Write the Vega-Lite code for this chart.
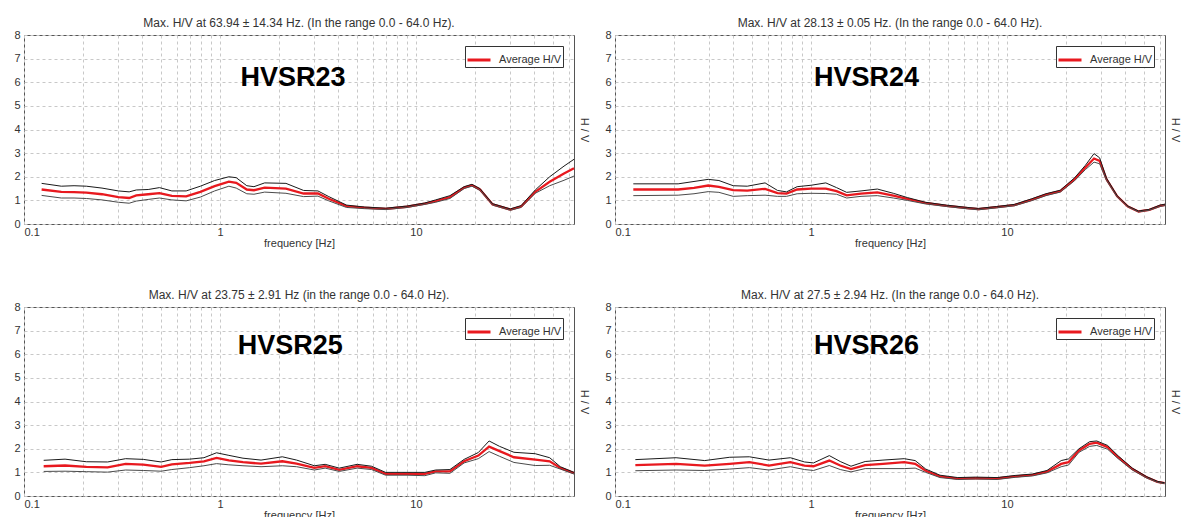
{
  "$schema": "https://vega.github.io/schema/vega-lite/v6.json",
  "padding": {"left": 13, "top": 16, "right": 2, "bottom": 0},
  "bounds": "flush",
  "columns": 2,
  "spacing": {"column": 41, "row": 83},
  "datasets": {
    "p23": [
      {"f":0.123,"avg":1.46,"hi":1.72,"lo":1.21},{"f":0.155,"avg":1.36,"hi":1.60,"lo":1.10},{"f":0.18,"avg":1.35,"hi":1.62,"lo":1.10},{"f":0.208,"avg":1.33,"hi":1.60,"lo":1.08},{"f":0.25,"avg":1.26,"hi":1.52,"lo":1.02},{"f":0.303,"avg":1.14,"hi":1.40,"lo":0.92},{"f":0.344,"avg":1.10,"hi":1.36,"lo":0.88},{"f":0.374,"avg":1.21,"hi":1.44,"lo":0.97},{"f":0.43,"avg":1.26,"hi":1.46,"lo":1.04},{"f":0.491,"avg":1.31,"hi":1.54,"lo":1.10},{"f":0.568,"avg":1.19,"hi":1.40,"lo":1.02},{"f":0.672,"avg":1.17,"hi":1.40,"lo":0.98},{"f":0.794,"avg":1.36,"hi":1.60,"lo":1.14},{"f":0.939,"avg":1.60,"hi":1.84,"lo":1.40},{"f":1.11,"avg":1.79,"hi":2.00,"lo":1.60},{"f":1.21,"avg":1.74,"hi":1.96,"lo":1.52},{"f":1.37,"avg":1.46,"hi":1.62,"lo":1.28},{"f":1.49,"avg":1.43,"hi":1.58,"lo":1.26},{"f":1.69,"avg":1.54,"hi":1.74,"lo":1.35},{"f":2.17,"avg":1.50,"hi":1.72,"lo":1.30},{"f":2.67,"avg":1.29,"hi":1.42,"lo":1.16},{"f":3.16,"avg":1.29,"hi":1.40,"lo":1.18},{"f":3.59,"avg":1.07,"hi":1.16,"lo":0.98},{"f":4.42,"avg":0.76,"hi":0.80,"lo":0.70},{"f":5.45,"avg":0.69,"hi":0.72,"lo":0.65},{"f":7.0,"avg":0.64,"hi":0.67,"lo":0.61},{"f":9.0,"avg":0.73,"hi":0.76,"lo":0.70},{"f":11.1,"avg":0.86,"hi":0.89,"lo":0.83},{"f":12.6,"avg":0.97,"hi":1.02,"lo":0.92},{"f":14.9,"avg":1.14,"hi":1.20,"lo":1.08},{"f":17.6,"avg":1.54,"hi":1.58,"lo":1.50},{"f":19.3,"avg":1.64,"hi":1.68,"lo":1.60},{"f":21.2,"avg":1.46,"hi":1.50,"lo":1.42},{"f":24.6,"avg":0.83,"hi":0.86,"lo":0.80},{"f":30.3,"avg":0.61,"hi":0.64,"lo":0.58},{"f":34.4,"avg":0.74,"hi":0.78,"lo":0.70},{"f":40.6,"avg":1.36,"hi":1.44,"lo":1.30},{"f":48.1,"avg":1.79,"hi":2.00,"lo":1.62},{"f":56.9,"avg":2.14,"hi":2.45,"lo":1.85},{"f":64.0,"avg":2.36,"hi":2.74,"lo":2.03}
    ],
    "p24": [
      {"f":0.124,"avg":1.46,"hi":1.70,"lo":1.20},{"f":0.21,"avg":1.46,"hi":1.70,"lo":1.22},{"f":0.253,"avg":1.53,"hi":1.80,"lo":1.28},{"f":0.299,"avg":1.63,"hi":1.89,"lo":1.37},{"f":0.339,"avg":1.57,"hi":1.84,"lo":1.34},{"f":0.401,"avg":1.43,"hi":1.62,"lo":1.17},{"f":0.473,"avg":1.41,"hi":1.60,"lo":1.20},{"f":0.583,"avg":1.49,"hi":1.74,"lo":1.22},{"f":0.675,"avg":1.31,"hi":1.42,"lo":1.17},{"f":0.75,"avg":1.29,"hi":1.36,"lo":1.17},{"f":0.85,"avg":1.46,"hi":1.58,"lo":1.28},{"f":1.0,"avg":1.50,"hi":1.64,"lo":1.30},{"f":1.19,"avg":1.50,"hi":1.74,"lo":1.29},{"f":1.35,"avg":1.39,"hi":1.54,"lo":1.26},{"f":1.52,"avg":1.21,"hi":1.34,"lo":1.10},{"f":1.80,"avg":1.29,"hi":1.40,"lo":1.17},{"f":2.18,"avg":1.34,"hi":1.48,"lo":1.20},{"f":2.63,"avg":1.20,"hi":1.30,"lo":1.10},{"f":3.1,"avg":1.06,"hi":1.12,"lo":1.00},{"f":3.83,"avg":0.89,"hi":0.92,"lo":0.85},{"f":4.91,"avg":0.77,"hi":0.80,"lo":0.74},{"f":6.31,"avg":0.67,"hi":0.70,"lo":0.64},{"f":7.16,"avg":0.63,"hi":0.66,"lo":0.60},{"f":8.83,"avg":0.71,"hi":0.74,"lo":0.68},{"f":10.9,"avg":0.80,"hi":0.83,"lo":0.77},{"f":13.4,"avg":1.03,"hi":1.07,"lo":0.99},{"f":15.8,"avg":1.24,"hi":1.28,"lo":1.20},{"f":18.7,"avg":1.39,"hi":1.43,"lo":1.35},{"f":22.1,"avg":1.89,"hi":1.95,"lo":1.83},{"f":25.1,"avg":2.39,"hi":2.48,"lo":2.30},{"f":27.8,"avg":2.77,"hi":2.98,"lo":2.62},{"f":29.7,"avg":2.67,"hi":2.80,"lo":2.55},{"f":32.2,"avg":1.89,"hi":1.94,"lo":1.84},{"f":36.5,"avg":1.17,"hi":1.20,"lo":1.14},{"f":41.4,"avg":0.74,"hi":0.76,"lo":0.72},{"f":46.9,"avg":0.53,"hi":0.55,"lo":0.51},{"f":53.2,"avg":0.60,"hi":0.62,"lo":0.58},{"f":60.3,"avg":0.77,"hi":0.80,"lo":0.74},{"f":64.0,"avg":0.81,"hi":0.84,"lo":0.78}
    ],
    "p25": [
      {"f":0.126,"avg":1.26,"hi":1.51,"lo":1.04},{"f":0.162,"avg":1.29,"hi":1.56,"lo":1.05},{"f":0.208,"avg":1.23,"hi":1.45,"lo":1.03},{"f":0.267,"avg":1.21,"hi":1.44,"lo":1.01},{"f":0.33,"avg":1.36,"hi":1.58,"lo":1.10},{"f":0.406,"avg":1.33,"hi":1.55,"lo":1.08},{"f":0.501,"avg":1.23,"hi":1.44,"lo":1.05},{"f":0.568,"avg":1.34,"hi":1.54,"lo":1.12},{"f":0.70,"avg":1.40,"hi":1.56,"lo":1.20},{"f":0.828,"avg":1.47,"hi":1.62,"lo":1.28},{"f":0.96,"avg":1.61,"hi":1.83,"lo":1.37},{"f":1.11,"avg":1.51,"hi":1.72,"lo":1.32},{"f":1.31,"avg":1.43,"hi":1.60,"lo":1.28},{"f":1.62,"avg":1.37,"hi":1.52,"lo":1.24},{"f":2.08,"avg":1.47,"hi":1.66,"lo":1.28},{"f":2.46,"avg":1.37,"hi":1.52,"lo":1.24},{"f":3.03,"avg":1.19,"hi":1.28,"lo":1.10},{"f":3.44,"avg":1.26,"hi":1.34,"lo":1.18},{"f":4.06,"avg":1.11,"hi":1.18,"lo":1.04},{"f":5.01,"avg":1.26,"hi":1.34,"lo":1.18},{"f":5.93,"avg":1.19,"hi":1.26,"lo":1.12},{"f":7.0,"avg":0.94,"hi":1.00,"lo":0.88},{"f":9.0,"avg":0.94,"hi":1.00,"lo":0.88},{"f":11.1,"avg":0.94,"hi":1.00,"lo":0.86},{"f":12.6,"avg":1.04,"hi":1.10,"lo":0.98},{"f":14.9,"avg":1.04,"hi":1.12,"lo":0.96},{"f":17.6,"avg":1.47,"hi":1.55,"lo":1.40},{"f":20.8,"avg":1.71,"hi":1.84,"lo":1.58},{"f":23.6,"avg":2.09,"hi":2.33,"lo":1.88},{"f":26.7,"avg":1.90,"hi":2.10,"lo":1.68},{"f":31.6,"avg":1.64,"hi":1.85,"lo":1.42},{"f":40.6,"avg":1.54,"hi":1.79,"lo":1.29},{"f":48.1,"avg":1.47,"hi":1.62,"lo":1.30},{"f":54.5,"avg":1.19,"hi":1.24,"lo":1.14},{"f":64.0,"avg":0.97,"hi":1.00,"lo":0.93}
    ],
    "p26": [
      {"f":0.127,"avg":1.31,"hi":1.54,"lo":1.07},{"f":0.205,"avg":1.36,"hi":1.62,"lo":1.10},{"f":0.287,"avg":1.29,"hi":1.50,"lo":1.08},{"f":0.385,"avg":1.36,"hi":1.64,"lo":1.14},{"f":0.485,"avg":1.43,"hi":1.66,"lo":1.20},{"f":0.61,"avg":1.29,"hi":1.52,"lo":1.10},{"f":0.785,"avg":1.43,"hi":1.62,"lo":1.24},{"f":0.927,"avg":1.29,"hi":1.44,"lo":1.12},{"f":1.03,"avg":1.26,"hi":1.40,"lo":1.08},{"f":1.24,"avg":1.50,"hi":1.71,"lo":1.29},{"f":1.41,"avg":1.29,"hi":1.46,"lo":1.12},{"f":1.60,"avg":1.14,"hi":1.26,"lo":1.02},{"f":1.89,"avg":1.31,"hi":1.46,"lo":1.16},{"f":2.33,"avg":1.36,"hi":1.52,"lo":1.16},{"f":2.99,"avg":1.43,"hi":1.58,"lo":1.16},{"f":3.4,"avg":1.36,"hi":1.50,"lo":1.18},{"f":3.85,"avg":1.07,"hi":1.14,"lo":1.00},{"f":4.55,"avg":0.83,"hi":0.88,"lo":0.78},{"f":5.61,"avg":0.74,"hi":0.78,"lo":0.70},{"f":6.92,"avg":0.76,"hi":0.80,"lo":0.72},{"f":8.9,"avg":0.74,"hi":0.78,"lo":0.70},{"f":11.0,"avg":0.83,"hi":0.87,"lo":0.79},{"f":13.5,"avg":0.89,"hi":0.93,"lo":0.85},{"f":16.0,"avg":1.03,"hi":1.08,"lo":0.98},{"f":18.9,"avg":1.36,"hi":1.50,"lo":1.24},{"f":20.6,"avg":1.43,"hi":1.57,"lo":1.31},{"f":23.3,"avg":1.93,"hi":2.00,"lo":1.85},{"f":26.4,"avg":2.21,"hi":2.30,"lo":2.10},{"f":28.7,"avg":2.26,"hi":2.33,"lo":2.14},{"f":32.6,"avg":2.07,"hi":2.14,"lo":1.98},{"f":36.9,"avg":1.64,"hi":1.70,"lo":1.58},{"f":43.6,"avg":1.14,"hi":1.18,"lo":1.10},{"f":51.6,"avg":0.79,"hi":0.82,"lo":0.76},{"f":58.5,"avg":0.60,"hi":0.62,"lo":0.58},{"f":63.7,"avg":0.54,"hi":0.56,"lo":0.52}
    ]
  },
  "concat": [
    {
      "width": 550, "height": 189,
      "title": "Max. H/V at 63.94 ± 14.34 Hz. (In the range 0.0 - 64.0 Hz).",
      "resolve": {"axis": {"y": "independent"}},
      "layer": [
        {"data": {"name": "p23"}, "mark": {"type": "line", "strokeWidth": 2.3, "color": "#e8191f"},
         "encoding": {
           "x": {"field": "f", "type": "quantitative", "scale": {"type": "log", "domain": [0.1, 64], "nice": false},
                 "axis": {"title": "frequency [Hz]", "values": [0.1,0.2,0.3,0.4,0.5,0.6,0.7,0.8,0.9,1,2,3,4,5,6,7,8,9,10,20,30,40,50,60],
                          "labelExpr": "datum.value == 0.1 || datum.value == 1 || datum.value == 10 ? '' + datum.value : ''"}},
           "y": {"field": "avg", "type": "quantitative", "scale": {"domain": [0, 8], "nice": false},
                 "axis": {"title": null, "values": [0,1,2,3,4,5,6,7,8]}},
           "color": {"datum": "Average H/V", "type": "nominal", "scale": {"range": ["#e8191f"]}}
         }},
        {"data": {"name": "p23"}, "mark": {"type": "line", "strokeWidth": 1, "color": "#1a1a1a"},
         "encoding": {"x": {"field": "f", "type": "quantitative"}, "y": {"field": "hi", "type": "quantitative", "axis": null}}},
        {"data": {"name": "p23"}, "mark": {"type": "line", "strokeWidth": 1, "color": "#4a4a4a"},
         "encoding": {"x": {"field": "f", "type": "quantitative"}, "y": {"field": "lo", "type": "quantitative", "axis": null}}},
        {"data": {"values": [{"f": 2.36, "v": 6.2, "label": "HVSR23"}]},
         "mark": {"type": "text", "fontSize": 27, "fontWeight": "bold", "font": "Liberation Sans", "color": "#000"},
         "encoding": {"x": {"field": "f", "type": "quantitative"},
                      "y": {"field": "v", "type": "quantitative", "axis": {"orient": "right", "title": "H / V", "labels": false, "ticks": false, "domain": false, "grid": false, "titlePadding": 4}},
                      "text": {"field": "label"}}}
      ]
    },
    {
      "width": 550, "height": 189,
      "title": "Max. H/V at 28.13 ± 0.05 Hz. (In the range 0.0 - 64.0 Hz).",
      "resolve": {"axis": {"y": "independent"}},
      "layer": [
        {"data": {"name": "p24"}, "mark": {"type": "line", "strokeWidth": 2.3, "color": "#e8191f"},
         "encoding": {
           "x": {"field": "f", "type": "quantitative", "scale": {"type": "log", "domain": [0.1, 64], "nice": false},
                 "axis": {"title": "frequency [Hz]", "values": [0.1,0.2,0.3,0.4,0.5,0.6,0.7,0.8,0.9,1,2,3,4,5,6,7,8,9,10,20,30,40,50,60],
                          "labelExpr": "datum.value == 0.1 || datum.value == 1 || datum.value == 10 ? '' + datum.value : ''"}},
           "y": {"field": "avg", "type": "quantitative", "scale": {"domain": [0, 8], "nice": false},
                 "axis": {"title": null, "values": [0,1,2,3,4,5,6,7,8]}},
           "color": {"datum": "Average H/V", "type": "nominal", "scale": {"range": ["#e8191f"]}}
         }},
        {"data": {"name": "p24"}, "mark": {"type": "line", "strokeWidth": 1, "color": "#1a1a1a"},
         "encoding": {"x": {"field": "f", "type": "quantitative"}, "y": {"field": "hi", "type": "quantitative", "axis": null}}},
        {"data": {"name": "p24"}, "mark": {"type": "line", "strokeWidth": 1, "color": "#4a4a4a"},
         "encoding": {"x": {"field": "f", "type": "quantitative"}, "y": {"field": "lo", "type": "quantitative", "axis": null}}},
        {"data": {"values": [{"f": 1.92, "v": 6.2, "label": "HVSR24"}]},
         "mark": {"type": "text", "fontSize": 27, "fontWeight": "bold", "font": "Liberation Sans", "color": "#000"},
         "encoding": {"x": {"field": "f", "type": "quantitative"},
                      "y": {"field": "v", "type": "quantitative", "axis": {"orient": "right", "title": "H / V", "labels": false, "ticks": false, "domain": false, "grid": false, "titlePadding": 4}},
                      "text": {"field": "label"}}}
      ]
    },
    {
      "width": 550, "height": 189,
      "title": "Max. H/V at 23.75 ± 2.91 Hz (in the range 0.0 - 64.0 Hz).",
      "resolve": {"axis": {"y": "independent"}},
      "layer": [
        {"data": {"name": "p25"}, "mark": {"type": "line", "strokeWidth": 2.3, "color": "#e8191f"},
         "encoding": {
           "x": {"field": "f", "type": "quantitative", "scale": {"type": "log", "domain": [0.1, 64], "nice": false},
                 "axis": {"title": "frequency [Hz]", "values": [0.1,0.2,0.3,0.4,0.5,0.6,0.7,0.8,0.9,1,2,3,4,5,6,7,8,9,10,20,30,40,50,60],
                          "labelExpr": "datum.value == 0.1 || datum.value == 1 || datum.value == 10 ? '' + datum.value : ''"}},
           "y": {"field": "avg", "type": "quantitative", "scale": {"domain": [0, 8], "nice": false},
                 "axis": {"title": null, "values": [0,1,2,3,4,5,6,7,8]}},
           "color": {"datum": "Average H/V", "type": "nominal", "scale": {"range": ["#e8191f"]}}
         }},
        {"data": {"name": "p25"}, "mark": {"type": "line", "strokeWidth": 1, "color": "#1a1a1a"},
         "encoding": {"x": {"field": "f", "type": "quantitative"}, "y": {"field": "hi", "type": "quantitative", "axis": null}}},
        {"data": {"name": "p25"}, "mark": {"type": "line", "strokeWidth": 1, "color": "#4a4a4a"},
         "encoding": {"x": {"field": "f", "type": "quantitative"}, "y": {"field": "lo", "type": "quantitative", "axis": null}}},
        {"data": {"values": [{"f": 2.28, "v": 6.35, "label": "HVSR25"}]},
         "mark": {"type": "text", "fontSize": 27, "fontWeight": "bold", "font": "Liberation Sans", "color": "#000"},
         "encoding": {"x": {"field": "f", "type": "quantitative"},
                      "y": {"field": "v", "type": "quantitative", "axis": {"orient": "right", "title": "H / V", "labels": false, "ticks": false, "domain": false, "grid": false, "titlePadding": 4}},
                      "text": {"field": "label"}}}
      ]
    },
    {
      "width": 550, "height": 189,
      "title": "Max. H/V at 27.5 ± 2.94 Hz. (In the range 0.0 - 64.0 Hz).",
      "resolve": {"axis": {"y": "independent"}},
      "layer": [
        {"data": {"name": "p26"}, "mark": {"type": "line", "strokeWidth": 2.3, "color": "#e8191f"},
         "encoding": {
           "x": {"field": "f", "type": "quantitative", "scale": {"type": "log", "domain": [0.1, 64], "nice": false},
                 "axis": {"title": "frequency [Hz]", "values": [0.1,0.2,0.3,0.4,0.5,0.6,0.7,0.8,0.9,1,2,3,4,5,6,7,8,9,10,20,30,40,50,60],
                          "labelExpr": "datum.value == 0.1 || datum.value == 1 || datum.value == 10 ? '' + datum.value : ''"}},
           "y": {"field": "avg", "type": "quantitative", "scale": {"domain": [0, 8], "nice": false},
                 "axis": {"title": null, "values": [0,1,2,3,4,5,6,7,8]}},
           "color": {"datum": "Average H/V", "type": "nominal", "scale": {"range": ["#e8191f"]}}
         }},
        {"data": {"name": "p26"}, "mark": {"type": "line", "strokeWidth": 1, "color": "#1a1a1a"},
         "encoding": {"x": {"field": "f", "type": "quantitative"}, "y": {"field": "hi", "type": "quantitative", "axis": null}}},
        {"data": {"name": "p26"}, "mark": {"type": "line", "strokeWidth": 1, "color": "#4a4a4a"},
         "encoding": {"x": {"field": "f", "type": "quantitative"}, "y": {"field": "lo", "type": "quantitative", "axis": null}}},
        {"data": {"values": [{"f": 1.92, "v": 6.35, "label": "HVSR26"}]},
         "mark": {"type": "text", "fontSize": 27, "fontWeight": "bold", "font": "Liberation Sans", "color": "#000"},
         "encoding": {"x": {"field": "f", "type": "quantitative"},
                      "y": {"field": "v", "type": "quantitative", "axis": {"orient": "right", "title": "H / V", "labels": false, "ticks": false, "domain": false, "grid": false, "titlePadding": 4}},
                      "text": {"field": "label"}}}
      ]
    }
  ],
  "resolve": {"scale": {"color": "independent"}, "legend": {"color": "independent"}},
  "config": {
    "font": "Liberation Sans",
    "background": "white",
    "view": {"stroke": "#555555", "strokeWidth": 1},
    "title": {"fontSize": 12, "fontWeight": "normal", "color": "#333333", "font": "Liberation Sans", "offset": -1, "frame": "group"},
    "axis": {"grid": true, "gridColor": "#c8c8c8", "gridDash": [3, 3], "gridWidth": 1, "ticks": false, "domain": false,
             "labelFont": "Liberation Sans", "labelFontSize": 11, "labelColor": "#333333", "labelPadding": 4,
             "titleFont": "Liberation Sans", "titleFontSize": 11, "titleFontWeight": "normal", "titleColor": "#333333",
             "labelOverlap": false, "labelBound": false},
    "axisX": {"titlePadding": 0, "labelPadding": 2},
    "legend": {"title": null, "orient": "top-right", "offset": 11, "strokeColor": "#333333", "fillColor": "white",
               "padding": 1, "symbolType": "stroke", "symbolStrokeWidth": 3, "symbolSize": 529,
               "labelFontSize": 11, "labelColor": "#333333", "labelFont": "Liberation Sans", "labelOffset": 7, "cornerRadius": 0}
  }
}
